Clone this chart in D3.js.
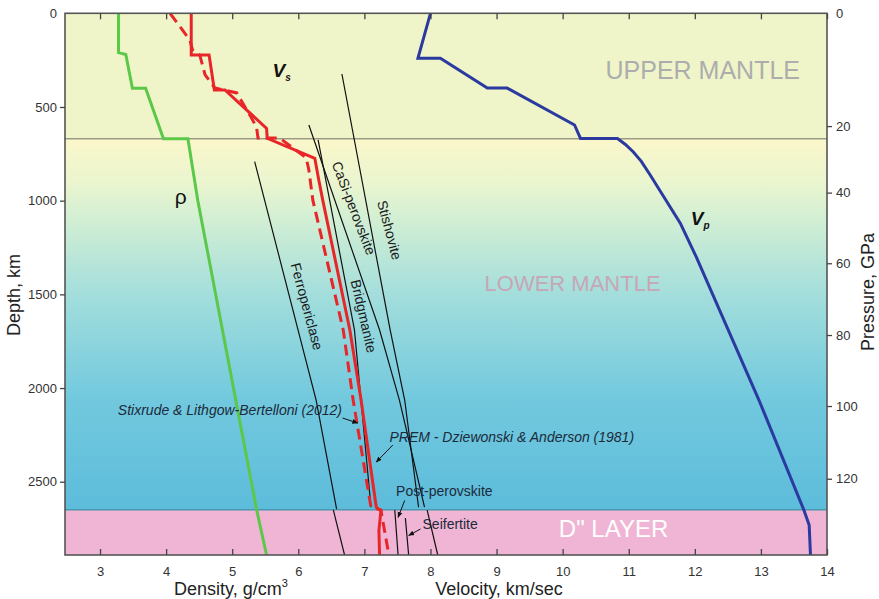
<!DOCTYPE html>
<html><head><meta charset="utf-8">
<script src="https://cdn.jsdelivr.net/npm/d3@7"></script>
<style>
body{margin:0;background:#fff;}
svg text{font-family:"Liberation Sans",Arial,Helvetica,sans-serif;}
</style>
</head><body>
<svg id="chart" width="879" height="599"></svg>
<script>
// ---------------- DATA ----------------
const xTicks = [3,4,5,6,7,8,9,10,11,12,13,14];
const depthTicks = [0,500,1000,1500,2000,2500];
const pressureTicks = [0,20,40,60,80,100,120];
const pressureDepths = [0,602,957,1334,1717,2096,2484];
const layerBounds = [0,670,2650,2891];

// [depth km, value]
const density = [[0,3.28],[210,3.28],[220,3.39],[400,3.49],[400,3.69],[670,3.96],[670,4.33],[1000,4.48],[2650,5.37],[2891,5.52]];
const vpPrem = [[0,8.00],[240,7.81],[240,8.15],[399,8.86],[399,9.16],[596,10.18],[668,10.27],[668,10.83],[700,10.95],[740,11.07],[790,11.19],[860,11.32],[979,11.53],[1120,11.78],[1299,12.02],[2064,12.97],[2651,13.65],[2731,13.73],[2891,13.75]];
const vsPrem = [[0,4.38],[223,4.38],[223,4.65],[409,4.73],[409,4.89],[614,5.52],[667,5.53],[774,6.25],[890,6.31],[997,6.37],[1690,6.78],[2064,6.95],[2636,7.18],[2655,7.25],[2760,7.22],[2891,7.23]];
const vsStixrude = [[0,4.06],[143,4.36],[196,4.40],[223,4.51],[329,4.59],[399,4.74],[425,5.07],[570,5.31],[612,5.37],[666,5.39],[666,5.72],[772,6.12],[836,6.16],[997,6.22],[1690,6.68],[2064,6.83],[2636,7.10],[2651,7.25],[2891,7.37]];
const ferropericlase = [[792,5.34],[2064,6.27],[2646,6.58]];
const ferropericlaseD = [[2650,6.53],[2891,6.70]];
const bridgmanite = [[676,6.30],[1690,6.85],[2636,7.10]];
const caSiPerovskite = [[596,6.16],[1690,7.23],[2064,7.53],[2636,7.91]];
const caSiPerovskiteD = [[2651,7.95],[2891,8.11]];
const stishovite = [[324,6.66],[1690,7.39],[2064,7.61],[2636,7.82]];
const postPerovskite = [[2651,7.46],[2891,7.51]];
const seifertite = [[2694,7.62],[2891,7.67]];

// ---------------- LAYOUT / STYLE ----------------
const M = {left:65, right:827, top:13.3, bottom:555};
const svg = d3.select("#chart");
const x = d3.scaleLinear().domain([2.47,14]).range([M.left,M.right]);
const y = d3.scaleLinear().domain([0,2891]).range([M.top,M.bottom]);

const defs = svg.append("defs");
const grad = defs.append("linearGradient").attr("id","lm").attr("x1",0).attr("x2",0).attr("y1",0).attr("y2",1);
const gradStops = [[0,"#fbf7ca"],[0.12,"#eaf5cf"],[0.2,"#d6f0d3"],[0.42,"#a3dedc"],[0.7,"#72c9de"],[1,"#5dbcdb"]];
gradStops.forEach(s=>grad.append("stop").attr("offset",s[0]).attr("stop-color",s[1]));

// backgrounds
svg.append("rect").attr("x",M.left).attr("y",y(layerBounds[0])).attr("width",M.right-M.left)
  .attr("height",y(layerBounds[1])-y(layerBounds[0])).attr("fill","#eff5c8");
svg.append("rect").attr("x",M.left).attr("y",y(layerBounds[1])).attr("width",M.right-M.left)
  .attr("height",y(layerBounds[2])-y(layerBounds[1])).attr("fill","url(#lm)");
svg.append("rect").attr("x",M.left).attr("y",y(layerBounds[2])).attr("width",M.right-M.left)
  .attr("height",y(layerBounds[3])-y(layerBounds[2])).attr("fill","#f0b5d4");

// boundaries
svg.append("line").attr("x1",M.left).attr("x2",M.right).attr("y1",y(layerBounds[1])).attr("y2",y(layerBounds[1]))
  .attr("stroke","#6e6e62").attr("stroke-width",1);
svg.append("line").attr("x1",M.left).attr("x2",M.right).attr("y1",y(layerBounds[2])).attr("y2",y(layerBounds[2]))
  .attr("stroke","#4a98ad").attr("stroke-width",1.5);

// region labels
svg.append("text").attr("x",x(12.12)).attr("y",y(348)).attr("text-anchor","middle")
  .attr("font-size",25).attr("fill","#adadad").text("UPPER MANTLE");
svg.append("text").attr("x",x(10.15)).attr("y",y(1480)).attr("text-anchor","middle")
  .attr("font-size",22).attr("fill","#c7a6b6").text("LOWER MANTLE");
svg.append("text").attr("x",x(10.77)).attr("y",y(2794)).attr("text-anchor","middle")
  .attr("font-size",24).attr("fill","#ffffff").text('D" LAYER');

// lines
const line = d3.line().x(d=>x(d[1])).y(d=>y(d[0]));
function path(data, color, width, dash){
  const p = svg.append("path").datum(data).attr("d",line).attr("fill","none")
    .attr("stroke",color).attr("stroke-width",width).attr("stroke-linejoin","miter");
  if(dash) p.attr("stroke-dasharray",dash);
  return p;
}
[ferropericlase,ferropericlaseD,bridgmanite,caSiPerovskite,caSiPerovskiteD,stishovite,postPerovskite,seifertite]
  .forEach(d=>path(d,"#111",1.2));
path(density,"#5cc84a",3);
path(vpPrem,"#2b3aa0",3);
path(vsStixrude,"#e8262a",3,"11,6");
path(vsPrem,"#e8262a",3);

// mineral labels (rotated)
const minerals = [
  {t:"Ferropericlase", v:6.13, d:1565, a:75},
  {t:"CaSi-perovskite", v:6.84, d:1040, a:69},
  {t:"Stishovite", v:7.38, d:1157, a:75},
  {t:"Bridgmanite", v:6.99, d:1616, a:77}
];
minerals.forEach(m=>{
  svg.append("text").attr("transform",`translate(${x(m.v)},${y(m.d)}) rotate(${m.a})`)
    .attr("text-anchor","middle").attr("dy","0.35em").attr("font-size",14).attr("fill","#1a1a1a").text(m.t);
});

// annotations
const notes = [
  {t:"Stixrude & Lithgow-Bertelloni (2012)", v:3.27, d:2142, italic:true, a:[[6.67,2160],[6.90,2187]]},
  {t:"PREM - Dziewonski & Anderson (1981)", v:7.38, d:2290, italic:true, a:[[7.43,2304],[7.18,2395]]},
  {t:"Post-perovskite", v:7.48, d:2577, italic:false, a:[[7.61,2600],[7.51,2690]]},
  {t:"Seifertite", v:7.88, d:2750, italic:false, a:[[7.85,2752],[7.67,2787]]}
];
defs.append("marker").attr("id","ah").attr("viewBox","0 0 10 10").attr("refX",9).attr("refY",5)
  .attr("markerWidth",6).attr("markerHeight",6).attr("orient","auto")
  .append("path").attr("d","M0,1 L10,5 L0,9 z").attr("fill","#111");
notes.forEach(n=>{
  svg.append("text").attr("x",x(n.v)).attr("y",y(n.d)).attr("font-size",14)
    .attr("font-style",n.italic?"italic":"normal").attr("fill","#1c2a3a").text(n.t);
  svg.append("line").attr("x1",x(n.a[0][0])).attr("y1",y(n.a[0][1])).attr("x2",x(n.a[1][0])).attr("y2",y(n.a[1][1]))
    .attr("stroke","#111").attr("stroke-width",1).attr("marker-end","url(#ah)");
});

// series labels
const vs = svg.append("text").attr("x",x(5.61)).attr("y",y(340)).attr("font-weight","bold").attr("font-style","italic").attr("fill","#111");
vs.append("tspan").attr("font-size",19).text("V");
vs.append("tspan").attr("font-size",10).attr("dy",4).text("s");
const vp = svg.append("text").attr("x",x(11.94)).attr("y",y(1130)).attr("font-weight","bold").attr("font-style","italic").attr("fill","#111");
vp.append("tspan").attr("font-size",19).text("V");
vp.append("tspan").attr("font-size",10).attr("dy",4).text("p");
svg.append("text").attr("x",x(4.13)).attr("y",y(1018)).attr("font-size",21).attr("fill","#111").text("ρ");

// frame
svg.append("rect").attr("x",M.left).attr("y",M.top).attr("width",M.right-M.left).attr("height",M.bottom-M.top)
  .attr("fill","none").attr("stroke","#555").attr("stroke-width",1.6);

// axes
function styleAxis(g){
  g.select(".domain").remove();
  g.selectAll(".tick line").attr("stroke","#444").attr("stroke-width",1.3);
  g.selectAll(".tick text").attr("fill","#333").attr("font-size",13).attr("font-family",'"Liberation Sans",Arial,sans-serif');
}
svg.append("g").attr("transform",`translate(0,${M.bottom})`)
  .call(d3.axisBottom(x).tickValues(xTicks).tickSize(-6).tickPadding(12).tickFormat(d3.format("d"))).call(styleAxis);
svg.append("g").attr("transform",`translate(0,${M.top})`)
  .call(d3.axisTop(x).tickValues(xTicks).tickSize(-6).tickFormat("")).call(styleAxis);
const gl = svg.append("g").attr("transform",`translate(${M.left},0)`)
  .call(d3.axisLeft(y).tickValues(depthTicks).tickSize(5).tickPadding(3).tickFormat(d3.format("d"))).call(styleAxis);
gl.selectAll(".tick").filter(d=>d===0).select("line").remove();
const pScale = d3.scaleLinear().domain(pressureTicks).range(pressureDepths.map(d=>y(d)));
const gr = svg.append("g").attr("transform",`translate(${M.right},0)`)
  .call(d3.axisRight(pScale).tickValues(pressureTicks).tickSize(5).tickPadding(4).tickFormat(d3.format("d"))).call(styleAxis);
gr.selectAll(".tick").filter(d=>d===0).select("line").remove();

// axis titles
svg.append("text").attr("transform",`translate(20,295) rotate(-90)`).attr("text-anchor","middle")
  .attr("font-size",18).attr("fill","#222").text("Depth, km");
svg.append("text").attr("transform",`translate(874,292) rotate(-90)`).attr("text-anchor","middle")
  .attr("font-size",18).attr("fill","#222").text("Pressure, GPa");
const dt = svg.append("text").attr("x",231).attr("y",595).attr("text-anchor","middle").attr("font-size",18).attr("fill","#222");
dt.append("tspan").text("Density, g/cm");
dt.append("tspan").attr("font-size",11).attr("dy",-8).text("3");
svg.append("text").attr("x",499).attr("y",595).attr("text-anchor","middle").attr("font-size",18).attr("fill","#222").text("Velocity, km/sec");
</script>
</body></html>
